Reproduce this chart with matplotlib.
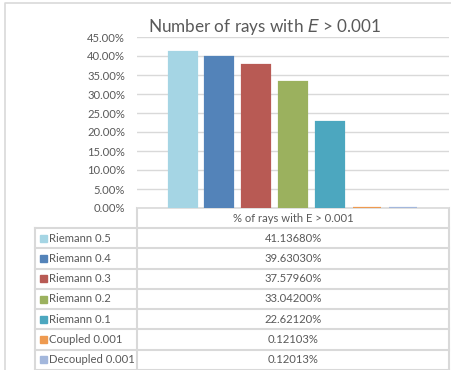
from matplotlib import pyplot as plt
from matplotlib.patches import Rectangle

# series names, values (fraction of rays) and colours
names = ['Riemann 0.5', 'Riemann 0.4', 'Riemann 0.3', 'Riemann 0.2',
         'Riemann 0.1', 'Coupled 0.001', 'Decoupled 0.001']
values = [0.4113680, 0.3963030, 0.3757960, 0.3304200,
          0.2262120, 0.0012103, 0.0012013]
colors = ['#A5D5E4', '#5383B9', '#B85A54', '#9BB15E',
          '#4CA7BF', '#EE9A50', '#A3B7DC']
yticks = [0, 0.05, 0.10, 0.15, 0.20, 0.25, 0.30, 0.35, 0.40, 0.45]
col_label = '% of rays with E > 0.001'

plt.rcParams['font.family'] = ['Lato', 'DejaVu Sans']
W, H = 452, 370
grey = '#D9D9D9'
txt = '#595959'
fs = 8.1

fig = plt.figure(figsize=(W / 100, H / 100), dpi=100)

# main bar axes, placed in pixel units
ax = fig.add_axes([137 / W, 1 - 208 / H, (449 - 137) / W, (208 - 37) / H])
for i, v in enumerate(values):
    ax.bar(i, v, width=0.76, color=colors[i], edgecolor=colors[i],
           linewidth=1.6, zorder=4)
ax.set_xlim(-1.24, 7.24)
ax.set_ylim(0, 0.45)
ax.set_yticks(yticks)
ax.set_yticklabels(['%.2f%%' % (t * 100) for t in yticks], color=txt, fontsize=fs)
ax.set_xticks([])
ax.tick_params(axis='y', length=0, pad=8.5)
ax.grid(axis='y', color=grey, linewidth=1, zorder=0)
for s in ['top', 'right', 'left']:
    ax.spines[s].set_visible(False)
ax.spines['bottom'].set_color(grey)
ax.spines['bottom'].set_linewidth(1.2)

# overlay in pixel coords for title, border and data table
ov = fig.add_axes([0, 0, 1, 1], zorder=-1)
ov.set_xlim(0, W)
ov.set_ylim(H, 0)
ov.axis('off')

fig.text(265 / W, 1 - 27 / H, 'Number of rays with $\\mathit{E}$ > 0.001',
         ha='center', va='center', fontsize=12.3, color=txt)

# outer chart border
ov.plot([5, 5, W], [H, 3, 3], color=grey, lw=1.2)

# data table
top = 208
head_b = 228
rh = (H - head_b) / len(names)
lc = dict(color=grey, lw=1.5)
ov.plot([137, 137], [top, H], **lc)
ov.plot([449, 449], [top, H], **lc)
ov.plot([35, 35], [head_b, H], **lc)
ov.plot([35, 449], [head_b, head_b], **lc)
ov.text(293, (top + head_b) / 2, col_label, ha='center', va='center',
        fontsize=fs, color=txt)
for i, (n, v, c) in enumerate(zip(names, values, colors)):
    y0 = head_b + i * rh
    ov.plot([35, 449], [y0 + rh, y0 + rh], **lc)
    yc = y0 + rh / 2
    ov.add_patch(Rectangle((40, yc - 3.5), 7, 7, color=c))
    ov.text(49, yc, n, ha='left', va='center', fontsize=fs, color=txt)
    ov.text(293, yc, '%.5f%%' % (v * 100), ha='center', va='center',
            fontsize=fs, color=txt)

plt.savefig('out.png')
